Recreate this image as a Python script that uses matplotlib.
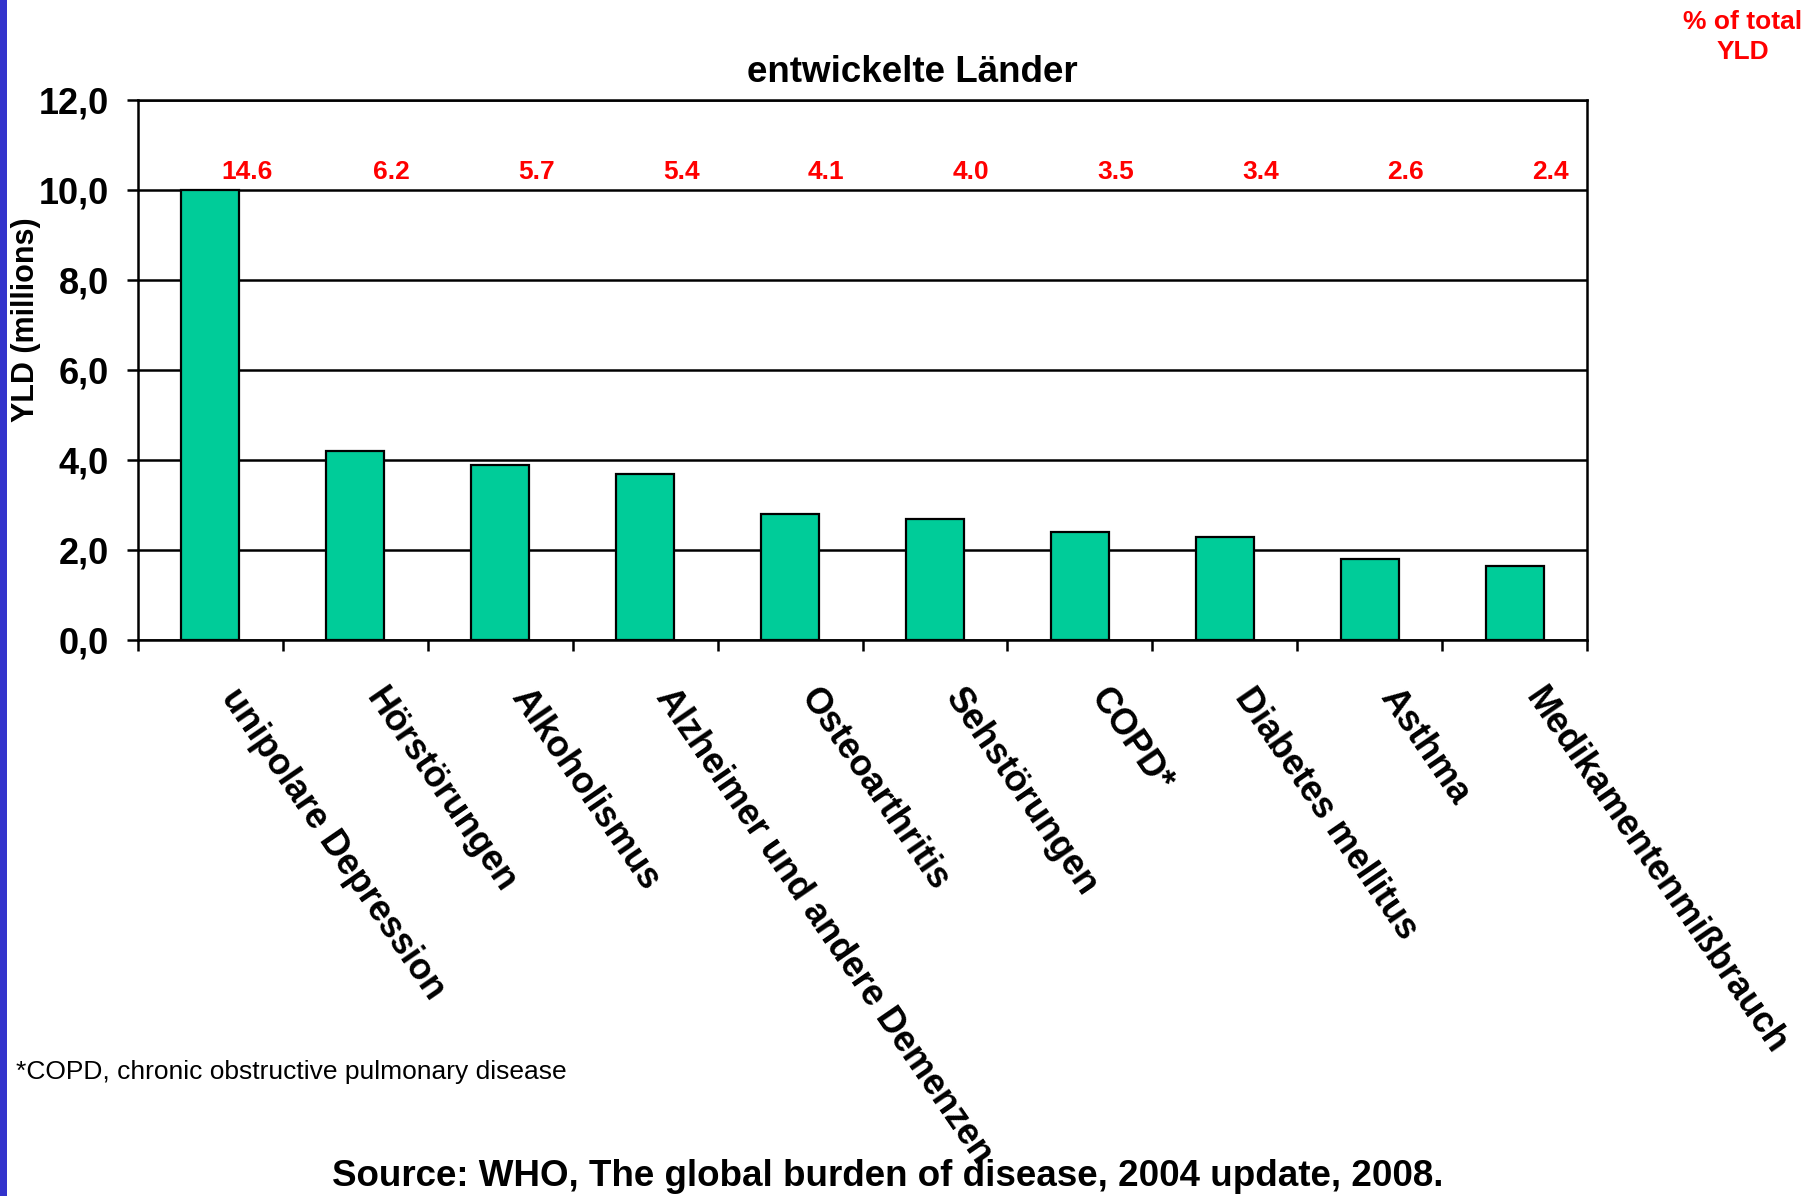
import matplotlib
matplotlib.use("Agg")
import matplotlib.pyplot as plt
import matplotlib.transforms as mtransforms
from matplotlib.patches import Rectangle
import numpy as np

# Years lived with disability, developed countries (WHO 2004 update)
categories = [
    "unipolare Depression", "Hörstörungen", "Alkoholismus",
    "Alzheimer und andere Demenzen", "Osteoarthritis", "Sehstörungen",
    "COPD*", "Diabetes mellitus", "Asthma", "Medikamentenmißbrauch",
]
yld_millions = [10.0, 4.2, 3.9, 3.7, 2.8, 2.7, 2.4, 2.3, 1.8, 1.65]
pct_of_total = ["14.6", "6.2", "5.7", "5.4", "4.1", "4.0", "3.5", "3.4", "2.6", "2.4"]
y_ticks = [0, 2, 4, 6, 8, 10, 12]
y_tick_labels = ["0,0", "2,0", "4,0", "6,0", "8,0", "10,0", "12,0"]

W, H, DPI = 1820, 1196, 100
fig = plt.figure(figsize=(W / DPI, H / DPI), dpi=DPI, facecolor="white")

SANS = ["Liberation Sans", "DejaVu Sans"]

# plot area
left, right, top, bottom = 138, 1587, 100, 640
ax = fig.add_axes([left / W, 1 - bottom / H, (right - left) / W, (bottom - top) / H])

x = np.arange(len(categories))
ax.bar(x, yld_millions, width=0.4, color="#00CC99", edgecolor="black",
       linewidth=1.6, zorder=3)

ax.set_xlim(-0.5, len(categories) - 0.5)
ax.set_ylim(0, 12)
ax.set_yticks(y_ticks)
ax.set_yticklabels(y_tick_labels, fontfamily=SANS, fontweight="bold", fontsize=26)
ax.tick_params(axis="y", direction="out", length=8, width=1.8, pad=13, color="black")

ax.set_xticks(x)
ax.set_xticklabels([])
ax.tick_params(axis="x", which="major", length=0)
ax.set_xticks(np.arange(-0.5, len(categories)), minor=True)
ax.tick_params(axis="x", which="minor", direction="out", length=8, width=1.8)

ax.yaxis.grid(True, color="black", linewidth=1.8, zorder=1)
ax.set_axisbelow(True)
for s in ax.spines.values():
    s.set_linewidth(1.8)
    s.set_color("black")

# category labels, rotated downward
trans = mtransforms.offset_copy(
    mtransforms.blended_transform_factory(ax.transData, ax.transAxes),
    fig=fig, x=32, y=-42, units="dots")
for xi, label in zip(x, categories):
    ax.text(xi, 0, label, transform=trans, rotation=-55.5, rotation_mode="anchor",
            ha="left", va="top", fontfamily=SANS, fontweight="bold", fontsize=26,
            clip_on=False)

# share of total YLD above each bar
for xi, pct in zip(x, pct_of_total):
    ax.text(xi + 0.25, 10.4, pct, ha="center", va="center", color="#FF0000",
            fontfamily=SANS, fontweight="bold", fontsize=19)

fig.text(26 / W, 1 - 320 / H, "YLD (millions)", rotation=90, ha="center",
         va="center", fontfamily=SANS, fontweight="bold", fontsize=22)

fig.text(912 / W, 1 - 72 / H, "entwickelte Länder", ha="center", va="center",
         fontfamily=SANS, fontweight="bold", fontsize=26.5)

fig.text(1743 / W, 1 - 37 / H, "% of total\nYLD", ha="center", va="center",
         color="#FF0000", fontfamily=SANS, fontweight="bold", fontsize=19,
         linespacing=1.3)

fig.text(16 / W, 1 - 1072 / H, "*COPD, chronic obstructive pulmonary disease",
         ha="left", va="center", fontfamily=SANS, fontsize=19)

fig.text(888 / W, 1 - 1176 / H,
         "Source: WHO, The global burden of disease, 2004 update, 2008.",
         ha="center", va="center", fontfamily=SANS, fontweight="bold", fontsize=26.5)

# blue strip along the left edge
fig.patches.append(Rectangle((0, 0), 7 / W, 1, transform=fig.transFigure,
                             facecolor="#3333CC", edgecolor="none"))

fig.savefig("out.png", dpi=DPI, facecolor="white")
